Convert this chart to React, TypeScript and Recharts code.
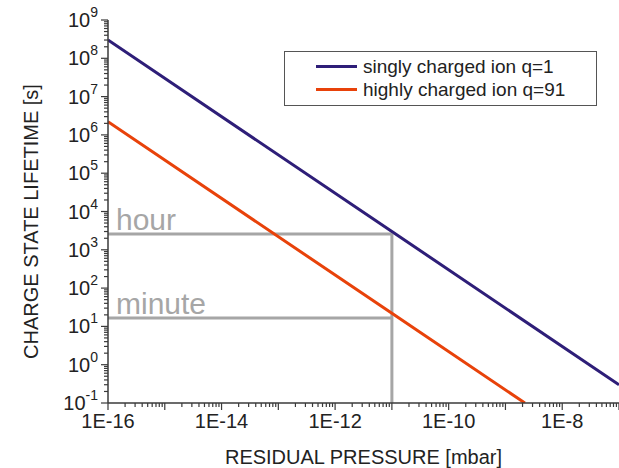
import React from 'react';
import { LineChart, Line, XAxis, YAxis, ReferenceLine, Legend } from 'recharts';

// residual pressure [mbar] vs charge state lifetime [s]
const singlyPressure = [1e-16, 1e-11, 1e-7];
const singlyLifetime = [3.0e8, 3.0e3, 0.3];
const highlyPressure = [1e-16, 1e-11, 2.2e-9];
const highlyLifetime = [2.2e6, 22, 0.1];

// gray guide lines
const markerPressure = 1e-11;
const hourLevel = 2600;
const minuteLevel = 16.5;

// axes
const xMajorTicks = [1e-16, 1e-15, 1e-14, 1e-13, 1e-12, 1e-11, 1e-10, 1e-9, 1e-8, 1e-7];
const xTickLabels: Record<string, string> = {
    '-16': '1E-16',
    '-14': '1E-14',
    '-12': '1E-12',
    '-10': '1E-10',
    '-8': '1E-8',
};
const yMajorTicks = [1e-1, 1e0, 1e1, 1e2, 1e3, 1e4, 1e5, 1e6, 1e7, 1e8, 1e9];
const yTickExponents = ['-1', '0', '1', '2', '3', '4', '5', '6', '7', '8', '9'];

const series = [
    { name: 'singly charged ion q=1', color: '#2e1e78', x: singlyPressure, y: singlyLifetime },
    { name: 'highly charged ion q=91', color: '#e8420a', x: highlyPressure, y: highlyLifetime },
];

const FONT = '"Liberation Sans", Arial, sans-serif';
const AXIS = '#3a3a3a';
const GUIDE = '#a6a6a6';

// major decades plus 2..9 minors in between
const withMinors = (majors: number[]) => {
    const out: number[] = [];
    majors.forEach((m, i) => {
        out.push(m);
        if (i < majors.length - 1) for (let k = 2; k <= 9; k++) out.push(k * m);
    });
    return out;
};
const xTicks = withMinors(xMajorTicks);
const yTicks = withMinors(yMajorTicks);

const expOf = (v: number) => {
    const e = Math.log10(v);
    const r = Math.round(e);
    return Math.abs(e - r) < 1e-6 ? r : null;
};

const BottomTick = (props: any) => {
    const { x, y, payload } = props;
    const e = expOf(payload.value);
    const label = e !== null ? xTickLabels[String(e)] : undefined;
    return (
        <g>
            <line x1={x} x2={x} y1={y} y2={y + (e !== null ? 7 : 4)} stroke={AXIS} strokeWidth={1.2} />
            {label && (
                <text x={x} y={y + 25} textAnchor="middle" fontSize={20} fontFamily={FONT} fill="#222">
                    {label}
                </text>
            )}
        </g>
    );
};

const TopTick = (props: any) => {
    const { x, y, payload } = props;
    const e = expOf(payload.value);
    return <line x1={x} x2={x} y1={y} y2={y + (e !== null ? 4 : 2.5)} stroke={AXIS} strokeWidth={1} />;
};

const LeftTick = (props: any) => {
    const { x, y, payload } = props;
    const e = expOf(payload.value);
    const idx = e !== null ? yMajorTicks.findIndex((v) => expOf(v) === e) : -1;
    return (
        <g>
            <line x1={x - (e !== null ? 7 : 4)} x2={x} y1={y} y2={y} stroke={AXIS} strokeWidth={1.2} />
            {idx >= 0 && (
                <text x={x - 10} y={y + 7} textAnchor="end" fontSize={20} fontFamily={FONT} fill="#222">
                    <tspan>10</tspan>
                    <tspan dy={-10} fontSize={14}>{yTickExponents[idx]}</tspan>
                </text>
            )}
        </g>
    );
};

const guideLabel = (text: string) => (props: any) => {
    const vb = props.viewBox;
    return (
        <text x={vb.x + 8} y={vb.y - 4} fontSize={30} fontFamily={FONT} fill={GUIDE}>
            {text}
        </text>
    );
};

const renderLegend = () => (
    <div
        style={{
            width: 313,
            height: 55,
            boxSizing: 'border-box',
            border: '1.5px solid #555',
            background: '#fff',
            padding: '3px 0 0 31px',
            fontFamily: FONT,
            fontSize: 19,
            color: '#222',
        }}
    >
        {series.map((s) => (
            <div key={s.name} style={{ display: 'flex', alignItems: 'center', height: 23 }}>
                <span style={{ display: 'inline-block', width: 41, height: 3, background: s.color, marginRight: 6 }} />
                <span style={{ lineHeight: '23px' }}>{s.name}</span>
            </div>
        ))}
    </div>
);

export default function App() {
    return (
        <div style={{ position: 'absolute', left: 0, top: 0, width: 619, height: 468, background: '#fff' }}>
            <LineChart width={619} height={468} margin={{ top: 20, right: 0, bottom: 0, left: 0 }}>
                <XAxis
                    xAxisId={0}
                    dataKey="p"
                    type="number"
                    scale="log"
                    domain={[1e-16, 1e-7]}
                    allowDataOverflow
                    ticks={xTicks}
                    interval={0}
                    tickSize={0}
                    tickMargin={0}
                    tickLine={false}
                    tick={<BottomTick />}
                    height={65}
                    stroke={AXIS}
                    strokeWidth={1.5}
                    label={(props: any) => {
                        const vb = props.viewBox;
                        return (
                            <text x={vb.x + vb.width / 2} y={vb.y + vb.height - 4} textAnchor="middle" fontSize={20} fontFamily={FONT} fill="#222">
                                RESIDUAL PRESSURE [mbar]
                            </text>
                        );
                    }}
                />
                <XAxis
                    xAxisId="top"
                    orientation="top"
                    type="number"
                    scale="log"
                    domain={[1e-16, 1e-7]}
                    allowDataOverflow
                    ticks={xTicks}
                    interval={0}
                    tickSize={0}
                    tickMargin={0}
                    tickLine={false}
                    tick={<TopTick />}
                    height={0}
                    stroke={AXIS}
                    strokeWidth={1.5}
                />
                <YAxis
                    dataKey="t"
                    type="number"
                    scale="log"
                    domain={[0.1, 1e9]}
                    allowDataOverflow
                    ticks={yTicks}
                    interval={0}
                    tickSize={0}
                    tickMargin={0}
                    tickLine={false}
                    tick={<LeftTick />}
                    width={108}
                    stroke={AXIS}
                    strokeWidth={1.5}
                    label={(props: any) => {
                        const vb = props.viewBox;
                        const cx = vb.x + 31;
                        const cy = vb.y + vb.height / 2 + 10;
                        return (
                            <text x={cx} y={cy} transform={`rotate(-90 ${cx} ${cy})`} textAnchor="middle" dominantBaseline="central" fontSize={20} fontFamily={FONT} fill="#222">
                                CHARGE STATE LIFETIME [s]
                            </text>
                        );
                    }}
                />
                <ReferenceLine
                    segment={[{ x: 1e-16, y: hourLevel }, { x: markerPressure, y: hourLevel }]}
                    stroke={GUIDE}
                    strokeWidth={3}
                    label={guideLabel('hour')}
                />
                <ReferenceLine
                    segment={[{ x: 1e-16, y: minuteLevel }, { x: markerPressure, y: minuteLevel }]}
                    stroke={GUIDE}
                    strokeWidth={3}
                    label={guideLabel('minute')}
                />
                <ReferenceLine
                    segment={[{ x: markerPressure, y: hourLevel }, { x: markerPressure, y: 0.1 }]}
                    stroke={GUIDE}
                    strokeWidth={3}
                />
                {series.map((s) => (
                    <Line
                        key={s.name}
                        name={s.name}
                        data={s.x.map((p, i) => ({ p, t: s.y[i] }))}
                        dataKey="t"
                        stroke={s.color}
                        strokeWidth={3}
                        dot={false}
                        activeDot={false}
                        isAnimationActive={false}
                    />
                ))}
                <Legend
                    layout="vertical"
                    align="center"
                    verticalAlign="middle"
                    content={renderLegend}
                    wrapperStyle={{ left: 284, top: 51, width: 313, height: 55 }}
                />
            </LineChart>
        </div>
    );
}
